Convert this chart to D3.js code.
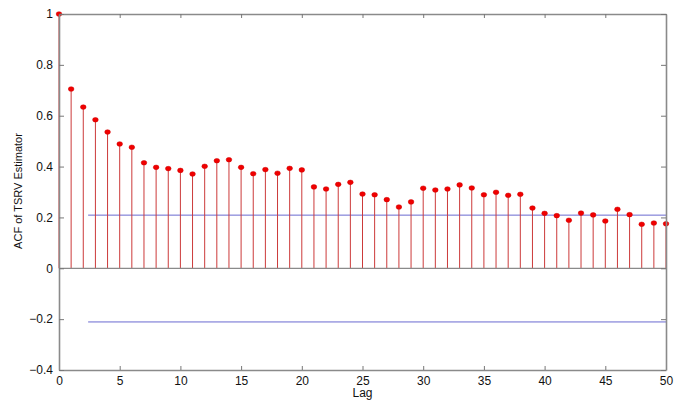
<!DOCTYPE html>
<html><head><meta charset="utf-8">
<script src="https://cdn.jsdelivr.net/npm/d3@7"></script>
<style>body{margin:0;background:#fff}svg{display:block}text{font-family:"Liberation Sans",Arial,sans-serif}</style>
</head><body>
<svg id="c" width="678" height="400"></svg>
<script>
const lags = d3.range(0, 51);
const acf = [1.000,0.705,0.634,0.584,0.536,0.489,0.476,0.415,0.397,0.392,0.385,
  0.371,0.401,0.423,0.427,0.397,0.372,0.388,0.374,0.393,0.387,
  0.320,0.312,0.330,0.338,0.292,0.289,0.270,0.241,0.261,0.315,
  0.308,0.312,0.328,0.316,0.289,0.299,0.287,0.291,0.237,0.216,
  0.207,0.189,0.217,0.210,0.186,0.232,0.211,0.173,0.178,0.175];
const bound = [0.209, -0.211];
const boundStart = 2.4;
const xTicks = [0,5,10,15,20,25,30,35,40,45,50];
const yTicks = [-0.4,-0.2,0,0.2,0.4,0.6,0.8,1];

const svg = d3.select("#c");
const L=59,R=666,T=14,B=370;
const x = d3.scaleLinear().domain([0,50]).range([L,R]);
const y = d3.scaleLinear().domain([-0.4,1]).range([B,T]);
const axisCol = "#8a8a8a";

// bounds
svg.selectAll("line.bd").data(bound).join("line").attr("class","bd")
  .attr("x1",x(boundStart)).attr("x2",x(50)).attr("y1",d=>y(d)).attr("y2",d=>y(d))
  .attr("stroke","#6a6ad0").attr("stroke-width",1);

// stems
svg.selectAll("line.st").data(lags).join("line").attr("class","st")
  .attr("x1",d=>x(d)).attr("x2",d=>x(d)).attr("y1",y(0)).attr("y2",d=>y(acf[d]))
  .attr("stroke","#cc3a3a").attr("stroke-width",1);

// baseline
svg.append("line").attr("x1",L).attr("x2",R).attr("y1",y(0)).attr("y2",y(0))
  .attr("stroke",axisCol).attr("stroke-width",1.2);

// markers
svg.selectAll("ellipse.m").data(lags).join("ellipse").attr("class","m")
  .attr("cx",d=>x(d)).attr("cy",d=>y(acf[d])).attr("rx",2.8).attr("ry",2.3)
  .attr("fill","#f00000").attr("stroke","#d00000").attr("stroke-width",0.5);

// axes with inward ticks
const gB = svg.append("g").attr("transform",`translate(0,${B})`)
  .call(d3.axisBottom(x).tickValues(xTicks).tickSizeInner(-4).tickSizeOuter(0).tickPadding(6));
const gT = svg.append("g").attr("transform",`translate(0,${T})`)
  .call(d3.axisTop(x).tickValues(xTicks).tickSizeInner(-4).tickSizeOuter(0).tickFormat(""));
const gL = svg.append("g").attr("transform",`translate(${L},0)`)
  .call(d3.axisLeft(y).tickValues(yTicks).tickSizeInner(-5).tickSizeOuter(0).tickPadding(8).tickFormat(d=>d3.format("")(+d.toFixed(1))));
const gR = svg.append("g").attr("transform",`translate(${R},0)`)
  .call(d3.axisRight(y).tickValues(yTicks).tickSizeInner(-5).tickSizeOuter(0).tickFormat(""));
[gB,gT,gL,gR].forEach(g=>{
  g.select(".domain").attr("stroke",axisCol).attr("stroke-width",1.6);
  g.selectAll(".tick line").attr("stroke","#777");
  g.selectAll(".tick text").attr("fill","#111").style("font-size","12px");
});
gL.selectAll(".tick text").attr("dx",2);

svg.append("text").attr("x",(L+R)/2).attr("y",397).attr("text-anchor","middle")
  .style("font-size","12px").attr("fill","#111").text("Lag");
svg.append("text").attr("transform","translate(22,191) rotate(-90)").attr("text-anchor","middle")
  .style("font-size","11px").attr("fill","#111").text("ACF of TSRV Estimator");
</script>
</body></html>
